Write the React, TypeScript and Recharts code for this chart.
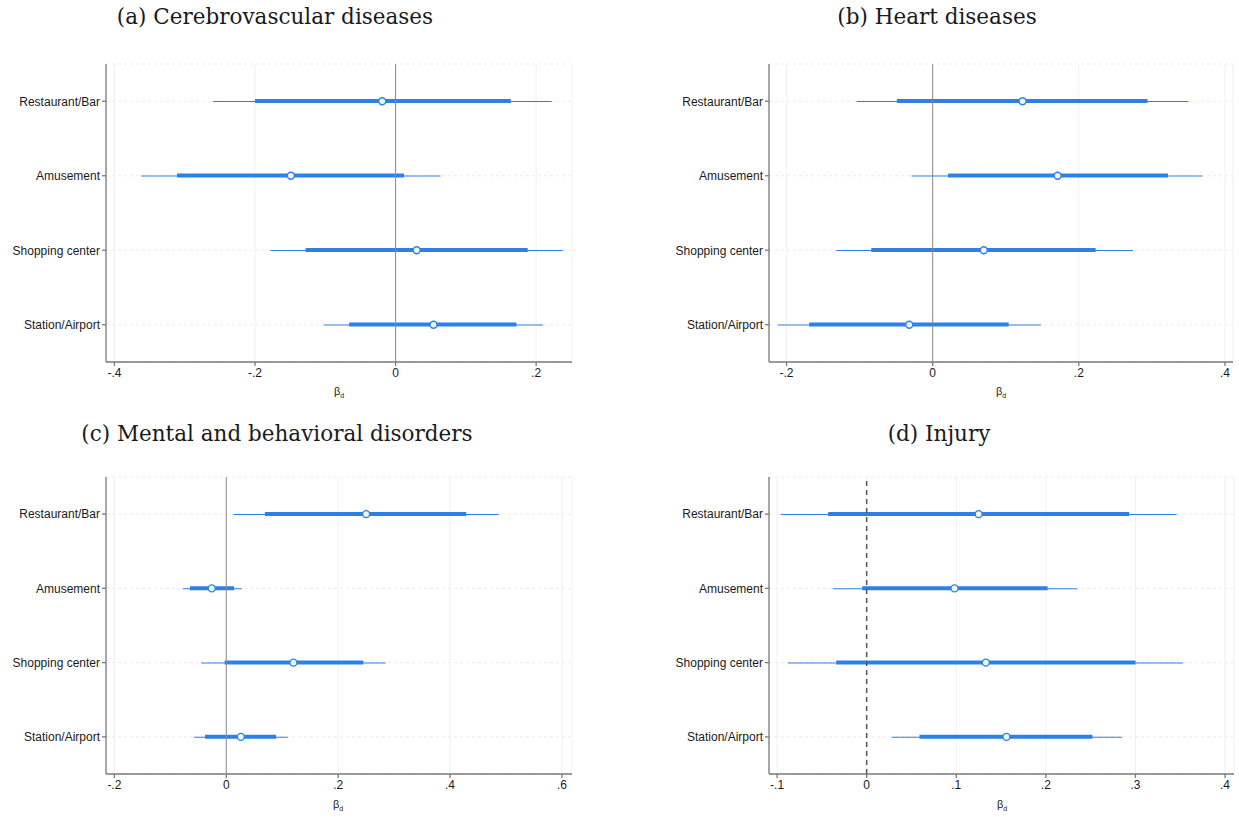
import {
  Bar,
  CartesianGrid,
  ComposedChart,
  Line,
  ReferenceLine,
  XAxis,
  YAxis,
} from 'recharts';

const CATEGORIES = ['Restaurant/Bar', 'Amusement', 'Shopping center', 'Station/Airport'];

// (a) Cerebrovascular diseases
const CEREBRO_EST = [-0.019, -0.149, 0.03, 0.054];
const CEREBRO_LO95 = [-0.26, -0.362, -0.178, -0.102];
const CEREBRO_HI95 = [0.222, 0.064, 0.238, 0.21];
const CEREBRO_LO90 = [-0.2, -0.311, -0.128, -0.066];
const CEREBRO_HI90 = [0.164, 0.012, 0.188, 0.172];
const CEREBRO_TICKS = [-0.4, -0.2, 0, 0.2];

// (b) Heart diseases
const HEART_EST = [0.123, 0.171, 0.07, -0.032];
const HEART_LO95 = [-0.104, -0.029, -0.132, -0.212];
const HEART_HI95 = [0.35, 0.369, 0.274, 0.148];
const HEART_LO90 = [-0.049, 0.021, -0.084, -0.169];
const HEART_HI90 = [0.294, 0.322, 0.223, 0.104];
const HEART_TICKS = [-0.2, 0, 0.2, 0.4];

// (c) Mental and behavioral disorders
const MENTAL_EST = [0.25, -0.026, 0.12, 0.026];
const MENTAL_LO95 = [0.013, -0.078, -0.045, -0.058];
const MENTAL_HI95 = [0.487, 0.028, 0.285, 0.11];
const MENTAL_LO90 = [0.069, -0.065, -0.003, -0.038];
const MENTAL_HI90 = [0.429, 0.014, 0.245, 0.089];
const MENTAL_TICKS = [-0.2, 0, 0.2, 0.4, 0.6];

// (d) Injury
const INJURY_EST = [0.125, 0.098, 0.133, 0.156];
const INJURY_LO95 = [-0.096, -0.038, -0.088, 0.028];
const INJURY_HI95 = [0.346, 0.235, 0.353, 0.285];
const INJURY_LO90 = [-0.043, -0.005, -0.034, 0.059];
const INJURY_HI90 = [0.293, 0.202, 0.3, 0.252];
const INJURY_TICKS = [-0.1, 0, 0.1, 0.2, 0.3, 0.4];

const BLUE = '#2f80e6';
const AXIS = '#7a7a7a';
const TEXT = '#1a1a1a';
const SANS = '"Liberation Sans", Arial, sans-serif';
const SERIF = '"DejaVu Serif", serif';

function buildRows(est: number[], lo95: number[], hi95: number[], lo90: number[], hi90: number[]) {
  return CATEGORIES.map((name, i) => ({
    name,
    est: est[i],
    ci95: [lo95[i], hi95[i]],
    ci90: [lo90[i], hi90[i]],
  }));
}

function fmtTick(v: number) {
  if (v === 0) return '0';
  const s = String(Math.abs(Number(v.toFixed(3)))).replace(/^0/, '');
  return v < 0 ? `-${s}` : s;
}

function EstimateDot(props: any) {
  const { cx, cy } = props;
  if (cx == null || cy == null) return null;
  return (
    <circle cx={cx} cy={cy} r={3.5} fill="#eef6ff" stroke={BLUE} strokeWidth={1.4} />
  );
}

type PanelProps = {
  data: ReturnType<typeof buildRows>;
  domain: [number, number];
  ticks: number[];
  left: number;
  top: number;
  width: number;
  height: number;
  yWidth: number;
  margin: { top: number; right: number; bottom: number; left: number };
  dashedZero?: boolean;
};

function CoefPanel({ data, domain, ticks, left, top, width, height, yWidth, margin, dashedZero }: PanelProps) {
  return (
    <div style={{ position: 'absolute', left, top }}>
      <ComposedChart width={width} height={height} layout="vertical" data={data} margin={margin}>
        <CartesianGrid yAxisId="ci95" horizontal={false} stroke="#f1f1f1" strokeWidth={1} />
        <CartesianGrid yAxisId="ci95" vertical={false} stroke="#ebebeb" strokeDasharray="3 3" />
        <XAxis
          type="number"
          domain={domain}
          ticks={ticks}
          allowDataOverflow
          tickFormatter={fmtTick}
          stroke={AXIS}
          strokeWidth={1.3}
          tickSize={4}
          tick={{ fill: TEXT, fontSize: 12, fontFamily: SANS }}
          height={30}
        />
        <YAxis
          yAxisId="ci95"
          type="category"
          dataKey="name"
          width={yWidth}
          stroke={AXIS}
          strokeWidth={1.3}
          tickSize={4}
          tick={{ fill: TEXT, fontSize: 12, fontFamily: SANS }}
        />
        <YAxis yAxisId="ci90" type="category" dataKey="name" orientation="right" width={0} hide />
        <Bar yAxisId="ci95" dataKey="ci95" barSize={1} fill={BLUE} isAnimationActive={false} />
        <Bar yAxisId="ci90" dataKey="ci90" barSize={4} fill={BLUE} isAnimationActive={false} />
        <ReferenceLine
          yAxisId="ci95"
          x={0}
          stroke={dashedZero ? '#555' : '#8a8a8a'}
          strokeWidth={dashedZero ? 1.5 : 1}
          strokeDasharray={dashedZero ? '5 4' : undefined}
        />
        <Line
          yAxisId="ci95"
          dataKey="est"
          stroke="none"
          dot={<EstimateDot />}
          activeDot={false}
          isAnimationActive={false}
        />
      </ComposedChart>
    </div>
  );
}

function Title({ text, cx, top }: { text: string; cx: number; top: number }) {
  return (
    <div
      style={{
        position: 'absolute',
        left: cx - 250,
        width: 500,
        top,
        textAlign: 'center',
        fontFamily: SERIF,
        fontSize: 21.5,
        color: TEXT,
        whiteSpace: 'nowrap',
      }}
    >
      {text}
    </div>
  );
}

function BetaLabel({ cx, top }: { cx: number; top: number }) {
  return (
    <div
      style={{
        position: 'absolute',
        left: cx - 20,
        width: 40,
        top,
        textAlign: 'center',
        fontFamily: SANS,
        fontSize: 11,
        color: TEXT,
      }}
    >
      β<sub style={{ fontSize: 7 }}>d</sub>
    </div>
  );
}

export default function App() {
  const cerebro = buildRows(CEREBRO_EST, CEREBRO_LO95, CEREBRO_HI95, CEREBRO_LO90, CEREBRO_HI90);
  const heart = buildRows(HEART_EST, HEART_LO95, HEART_HI95, HEART_LO90, HEART_HI90);
  const mental = buildRows(MENTAL_EST, MENTAL_LO95, MENTAL_HI95, MENTAL_LO90, MENTAL_HI90);
  const injury = buildRows(INJURY_EST, INJURY_LO95, INJURY_HI95, INJURY_LO90, INJURY_HI90);

  return (
    <div
      style={{
        position: 'absolute',
        left: 0,
        top: 0,
        width: 1239,
        height: 817,
        background: '#fff',
        overflow: 'hidden',
      }}
    >
      <Title text="(a) Cerebrovascular diseases" cx={275} top={4} />
      <Title text="(b) Heart diseases" cx={937} top={4} />
      <Title text="(c) Mental and behavioral disorders" cx={277} top={421} />
      <Title text="(d) Injury" cx={939} top={421} />

      <CoefPanel
        data={cerebro}
        domain={[-0.412, 0.251]}
        ticks={CEREBRO_TICKS}
        left={0}
        top={0}
        width={620}
        height={410}
        yWidth={106}
        margin={{ top: 64, right: 48, bottom: 18, left: 0 }}
      />
      <CoefPanel
        data={heart}
        domain={[-0.224, 0.411]}
        ticks={HEART_TICKS}
        left={620}
        top={0}
        width={619}
        height={410}
        yWidth={149}
        margin={{ top: 64, right: 6, bottom: 18, left: 0 }}
      />
      <CoefPanel
        data={mental}
        domain={[-0.215, 0.618]}
        ticks={MENTAL_TICKS}
        left={0}
        top={410}
        width={620}
        height={407}
        yWidth={106}
        margin={{ top: 67, right: 48, bottom: 13, left: 0 }}
      />
      <CoefPanel
        data={injury}
        domain={[-0.109, 0.41]}
        ticks={INJURY_TICKS}
        left={620}
        top={410}
        width={619}
        height={407}
        yWidth={149}
        margin={{ top: 67, right: 5, bottom: 13, left: 0 }}
        dashedZero
      />

      <BetaLabel cx={339} top={385} />
      <BetaLabel cx={1001} top={385} />
      <BetaLabel cx={338} top={798} />
      <BetaLabel cx={1002} top={798} />
    </div>
  );
}
